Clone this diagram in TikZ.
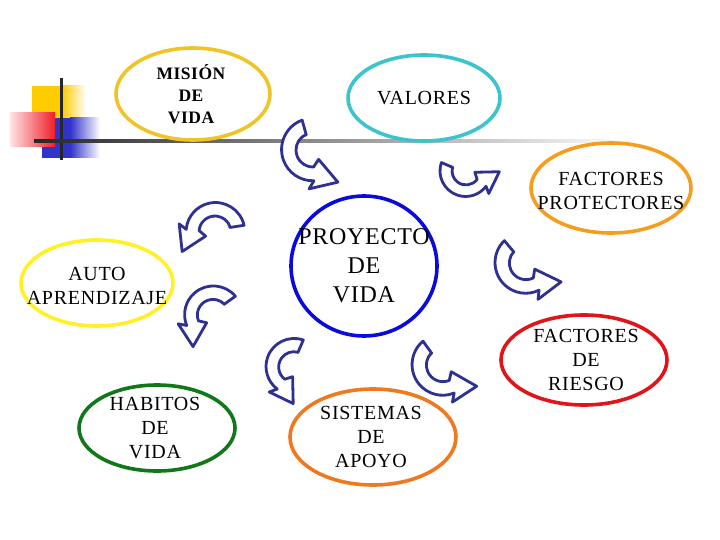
\documentclass[tikz,border=0pt]{standalone}
\usepackage{fontspec}
\setmainfont{Liberation Serif}
\usetikzlibrary{shapes,positioning}

\definecolor{navy}{RGB}{46,49,146}
\definecolor{gold}{RGB}{240,196,40}
\definecolor{teal}{RGB}{60,196,204}
\definecolor{orangeA}{RGB}{245,158,30}
\definecolor{lemon}{RGB}{255,240,40}
\definecolor{royal}{RGB}{10,10,220}
\definecolor{crimson}{RGB}{225,20,25}
\definecolor{forest}{RGB}{16,120,24}
\definecolor{orangeB}{RGB}{240,120,30}
\definecolor{sqyellow}{RGB}{255,204,0}
\definecolor{sqblue}{RGB}{51,51,204}
\definecolor{sqred}{RGB}{240,30,40}

\tikzset{
  ring/.style={ellipse, draw=#1, line width=3.6pt, inner sep=0pt},
  txt/.style={align=center, font=\addfontfeature{LetterSpace=3.5}\fontsize{20}{24}\selectfont},
  curv/.pic={
    \draw[navy, fill=white, line width=2.8pt, line join=round]
      (112:0.66) -- (108:1.27) arc[start angle=108, end angle=270, radius=1.25]
      -- (-0.21,-1.548) -- (0.95,-1.32) -- (0.21,-0.382) -- (0,-0.68)
      arc[start angle=270, end angle=112, radius=0.68] -- cycle;
  }
}

\begin{document}
\begin{tikzpicture}[x=1pt, y=1pt]
\useasboundingbox (0,0) rectangle (720,-540);

% corner squares
\fill[sqyellow] (32,-86) rectangle (62,-118);
\shade[left color=sqyellow, right color=white] (62,-86) rectangle (86,-118);
\fill[sqblue] (42,-118) rectangle (70,-158);
\shade[left color=sqblue, right color=white] (70,-118) rectangle (100,-158);
\shade[left color=sqred!12, right color=sqred] (10,-113) rectangle (55,-147);
\fill[black!85] (60,-78) rectangle (63,-160);
\shade[left color=black!85, right color=white] (34,-140) rectangle (630,-142.5);

% nodes
\node[ring=gold, minimum width=154pt, minimum height=92pt] (mision) at (193,-94) {};
\node[txt, font=\bfseries\addfontfeature{LetterSpace=3}\fontsize{17.5}{22}\selectfont] (misiont) at (191,-94) {MISIÓN\\DE\\VIDA};
\node[ring=teal, minimum width=152pt, minimum height=86pt] (valores) at (424,-98) {};
\node[txt] (valorest) at (valores) {VALORES};
\node[ring=orangeA, minimum width=160pt, minimum height=90pt] (protect) at (611,-188) {};
\node[txt] (protectt) at (611,-191) {FACTORES\\PROTECTORES};
\node[ring=lemon, minimum width=152pt, minimum height=86pt] (auto) at (97,-283) {};
\node[txt] (autot) at (97,-286) {AUTO\\APRENDIZAJE};
\node[ring=royal, minimum width=146pt, minimum height=140pt] (proyecto) at (364,-266) {};
\node[txt, font=\addfontfeature{LetterSpace=3}\fontsize{24}{29}\selectfont] (proyectot) at (proyecto) {PROYECTO\\DE\\VIDA};
\node[ring=crimson, minimum width=166pt, minimum height=90pt] (riesgo) at (584,-360) {};
\node[txt] (riesgot) at (586,-360) {FACTORES\\DE\\RIESGO};
\node[ring=forest, minimum width=156pt, minimum height=86pt] (habitos) at (157,-428) {};
\node[txt] (habitost) at (155,-428) {HABITOS\\DE\\VIDA};
\node[ring=orangeB, minimum width=166pt, minimum height=96pt] (apoyo) at (373,-437) {};
\node[txt] (apoyot) at (371,-437) {SISTEMAS\\DE\\APOYO};

% curved arrows
\pic[rotate=2, scale=25] (arrA) at (313,-150) {curv};
\pic[rotate=53, scale=20.5] (arrB) at (466,-171) {curv};
\pic[rotate=-95, scale=23.5] (arrC) at (215,-232) {curv};
\pic[rotate=-68, scale=23] (arrD) at (213,-315) {curv};
\pic[rotate=26, scale=24.5] (arrE) at (526,-263) {curv};
\pic[rotate=-37, scale=22.5] (arrF) at (294,-367) {curv};
\pic[rotate=22, scale=24.5] (arrG) at (443,-365) {curv};

\end{tikzpicture}
\end{document}
